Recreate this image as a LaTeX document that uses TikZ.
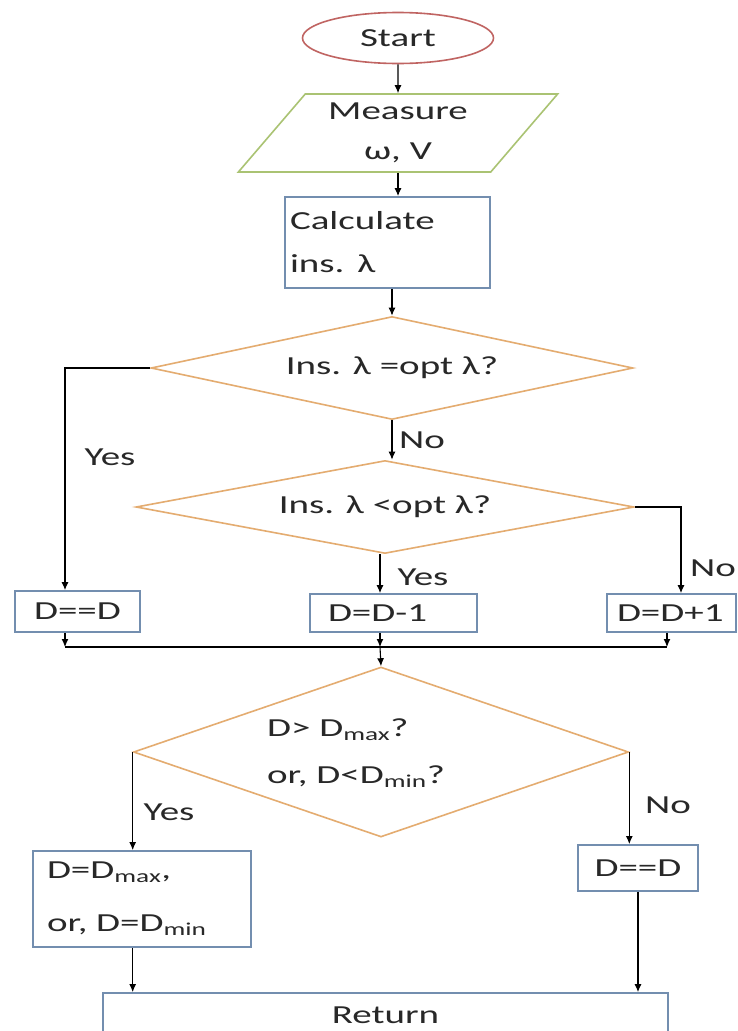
\documentclass[tikz,border=0pt]{standalone}
\usepackage{fontspec}
\setmainfont{Carlito}[FakeStretch=1.5]
\usetikzlibrary{shapes.geometric}
\usetikzlibrary{arrows.meta}
\definecolor{ovalred}{RGB}{192,100,98}
\definecolor{iogreen}{RGB}{170,195,115}
\definecolor{boxblue}{RGB}{115,142,175}
\definecolor{decorange}{RGB}{228,172,112}
\definecolor{txtgray}{RGB}{40,40,40}
\tikzset{
    terminal/.style={ellipse, draw=ovalred, line width=1.6pt, minimum width=191, minimum height=51, inner sep=0pt},
    io/.style={trapezium, trapezium left angle=50, trapezium right angle=130, trapezium stretches=true,
        draw=iogreen, line width=1.6pt, minimum width=320, minimum height=78, inner sep=0pt, align=center},
    process/.style={rectangle, draw=boxblue, line width=1.8pt, inner sep=0pt},
    decision/.style={diamond, draw=decorange, line width=1.6pt, inner sep=0pt},
    line/.style={draw=black, line width=1.1pt},
    arr/.style={line, -{Latex[length=8pt,width=7pt]}}
}

\begin{document}
\begin{tikzpicture}[x=1pt, y=-1pt, every node/.style={font=\fontsize{26}{40}\selectfont, text=txtgray}]
\useasboundingbox[fill=white] (0,0) rectangle (737,1031);

\node[terminal] (start) at (398,38) {Start};
\node[io] (measure) at (398,133) {Measure\\ω, V};
\node[process, minimum width=205, minimum height=91, text width=195, align=left] (calc) at (387.5,242.5)
    {Calculate\\[3pt]ins. λ};
\node[decision, aspect=4.7, minimum width=482, minimum height=103] (d1) at (392,368) {Ins. λ =opt λ?};
\node[decision, aspect=5.35, minimum width=498, minimum height=93] (d2) at (385,507) {Ins. λ <opt λ?};

\node[process, minimum width=125, minimum height=41] (keep1) at (77.5,611.5) {D==D};
\node[process, minimum width=167, minimum height=38, text width=131, align=left] (dec) at (393.5,613) {D=D-1};
\node[process, minimum width=129, minimum height=38, text width=109, align=left] (inc) at (671.5,613) {D=D+1};

\node[decision, aspect=2.9, minimum width=495, minimum height=170] (d3) at (381,752) {};
\node[align=left] (d3txt) at (356,753) {D> D\textsubscript{max}?\\[7pt]or, D<D\textsubscript{min}?};

\node[process, minimum width=218, minimum height=96, text width=190, align=left] (lim) at (142,899)
    {D=D\textsubscript{max},\\[13pt]or, D=D\textsubscript{min}};
\node[process, minimum width=120, minimum height=46] (keep2) at (638,868) {D==D};
\node[process, minimum width=565, minimum height=44] (ret) at (385.5,1015) {Return};

% branch labels
\node (yes1) at (110,457) {Yes};
\node (no1) at (422,440) {No};
\node (yes2) at (423,577) {Yes};
\node (no2) at (713,568) {No};
\node (yes3) at (169,812) {Yes};
\node (no3) at (668,805) {No};

\coordinate (jl) at (65,647);
\coordinate (jm) at (380,647);
\coordinate (jr) at (667,647);

\draw[style={arr}] (start.south) -- (measure.north);
\draw[style={arr}] (measure.south) -- (measure.south |- calc.north);
\draw[style={arr}] (calc.south -| d1.north) -- (d1.north);
\draw[style={arr}] (d1.west) -| (jl |- keep1.north);
\draw[style={arr}] (d1.south) -- (d1.south |- d2.north);
\draw[style={arr}] (jm |- d2.south) -- (jm |- dec.north);
\draw[style={arr}] (d2.east) -| ([xshift=9.5]inc.north);

\draw[style={line}] (jl) -- (jr);
\draw[style={arr}] (jl |- keep1.south) -- (jl);
\draw[style={arr}] (jm |- dec.south) -- (jm);
\draw[style={arr}] (jr |- inc.south) -- (jr);
\draw[style={arr}] (jm) -- (d3.north);

\draw[style={arr}] (d3.west) -- (d3.west |- lim.north);
\draw[style={arr}] (d3.east) -- (d3.east |- keep2.north);
\draw[style={arr}] (d3.west |- lim.south) -- (d3.west |- ret.north);
\draw[style={arr}] (keep2.south) -- (keep2.south |- ret.north);
\end{tikzpicture}
\end{document}
